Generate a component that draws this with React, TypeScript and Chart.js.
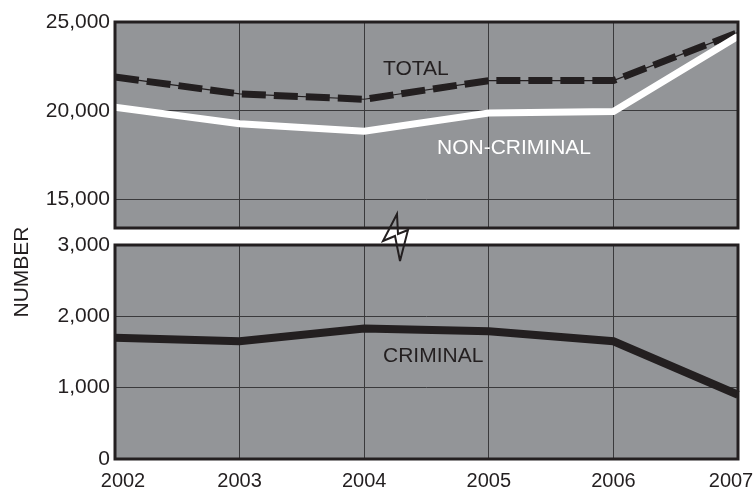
import React, { useEffect, useRef } from 'react';
import { Chart, registerables } from 'chart.js';

Chart.register(...registerables);

// ---- data ----
const years = ['2002', '2003', '2004', '2005', '2006', '2007'];
const total = [21900, 20950, 20650, 21700, 21700, 24400];
const nonCriminal = [20200, 19270, 18850, 19870, 19960, 24200];
const criminal = [1700, 1650, 1830, 1790, 1650, 900];
const upperTicks = [15000, 20000, 25000];
const lowerTicks = [0, 1000, 2000, 3000];
const upperRange = [13400, 25000];
const lowerRange = [0, 3000];

const GRAY = '#939598';
const INK = '#231f20';
const GRID = '#3a3a3c';
const FONT = "'Liberation Sans', Arial, Helvetica, sans-serif";

const panelPlugin = {
  id: 'panel',
  beforeDraw(chart: any) {
    const { ctx, chartArea: a } = chart;
    ctx.save();
    ctx.fillStyle = GRAY;
    ctx.fillRect(a.left, a.top, a.right - a.left, a.bottom - a.top);
    ctx.restore();
    // nudge the first and last x labels inward so they stay inside the page
    const xs = chart.scales.x;
    if (xs && xs.options.ticks.display) {
      const items = xs.getLabelItems();
      if (items.length && !items.__nudged) {
        items[0].options.translation[0] += 8;
        items[items.length - 1].options.translation[0] -= 7;
        items.__nudged = true;
      }
    }
  },
  afterDraw(chart: any) {
    const { ctx, chartArea: a } = chart;
    ctx.save();
    ctx.strokeStyle = INK;
    ctx.lineWidth = 3;
    ctx.strokeRect(a.left, a.top, a.right - a.left, a.bottom - a.top);
    ctx.restore();
  },
};

function makeOptions(range: number[], tickVals: number[], showX: boolean, padTop: number, padBottom: number) {
  return {
    animation: false,
    responsive: false,
    maintainAspectRatio: false,
    layout: { padding: { top: padTop, right: 18, bottom: padBottom, left: 0 } },
    plugins: { legend: { display: false }, tooltip: { enabled: false } },
    elements: { point: { radius: 0 }, line: { tension: 0 } },
    scales: {
      x: {
        offset: false,
        grid: { color: GRID, lineWidth: 1, drawTicks: false, offset: false },
        border: { display: false },
        ticks: {
          display: showX,
          color: INK,
          padding: 10,
          maxRotation: 0,
          autoSkip: false,
          font: { family: FONT, size: 20 },
        },
        afterFit: (s: any) => {
          s.paddingRight = 0;
          s.paddingLeft = 0;
          s.height = showX ? 30 : 0;
        },
      },
      y: {
        min: range[0],
        max: range[1],
        afterBuildTicks: (s: any) => {
          s.ticks = tickVals.map((v) => ({ value: v }));
        },
        afterFit: (s: any) => {
          s.width = 115;
          s.paddingTop = 0;
          s.paddingBottom = 0;
        },
        grid: { color: GRID, lineWidth: 1, drawTicks: false },
        border: { display: false },
        ticks: {
          color: INK,
          padding: 5,
          font: { family: FONT, size: 21 },
          callback: (v: any) => Number(v).toLocaleString('en-US'),
        },
      },
    },
  };
}

export default function App() {
  const topRef = useRef<HTMLCanvasElement>(null);
  const botRef = useRef<HTMLCanvasElement>(null);

  useEffect(() => {
    const top = new Chart(topRef.current as HTMLCanvasElement, {
      type: 'line',
      data: {
        labels: years,
        datasets: [
          {
            label: 'NON-CRIMINAL',
            data: nonCriminal,
            borderColor: '#ffffff',
            borderWidth: 7,
            borderJoinStyle: 'miter',
            fill: false,
          },
          {
            label: 'TOTAL (thin)',
            data: total,
            borderColor: INK,
            borderWidth: 1.2,
            fill: false,
          },
          {
            label: 'TOTAL',
            data: total,
            borderColor: INK,
            borderWidth: 7,
            borderDash: [24, 8],
            borderCapStyle: 'butt',
            borderJoinStyle: 'miter',
            fill: false,
          },
        ],
      },
      options: makeOptions(upperRange, upperTicks, false, 22, 3) as any,
      plugins: [panelPlugin],
    });

    const bottom = new Chart(botRef.current as HTMLCanvasElement, {
      type: 'line',
      data: {
        labels: years,
        datasets: [
          {
            label: 'CRIMINAL',
            data: criminal,
            borderColor: INK,
            borderWidth: 8,
            borderJoinStyle: 'miter',
            fill: false,
          },
        ],
      },
      options: makeOptions(lowerRange, lowerTicks, true, 15, 0) as any,
      plugins: [panelPlugin],
    });

    return () => {
      top.destroy();
      bottom.destroy();
    };
  }, []);

  const label = (text: string, left: number, top: number, color: string) => (
    <div
      style={{
        position: 'absolute',
        left,
        top,
        fontSize: 21,
        lineHeight: 1,
        whiteSpace: 'nowrap',
        color,
        fontFamily: FONT,
      }}
    >
      {text}
    </div>
  );

  return (
    <div
      style={{
        position: 'absolute',
        left: 0,
        top: 0,
        width: 756,
        height: 489,
        overflow: 'hidden',
        background: '#ffffff',
        fontFamily: FONT,
      }}
    >
      <canvas ref={topRef} width={756} height={231} style={{ position: 'absolute', left: 0, top: 0 }} />
      <canvas ref={botRef} width={756} height={259} style={{ position: 'absolute', left: 0, top: 230 }} />
      <svg
        width={756}
        height={489}
        style={{ position: 'absolute', left: 0, top: 0, pointerEvents: 'none' }}
      >
        <polygon
          points="397,214 383,241 395,236 400,261 408,230 398,234"
          fill="none"
          stroke={INK}
          strokeWidth={2}
          strokeLinejoin="miter"
        />
      </svg>
      {label('TOTAL', 383, 57, INK)}
      {label('NON-CRIMINAL', 437, 136, '#ffffff')}
      {label('CRIMINAL', 383, 344, INK)}
      <div
        style={{
          position: 'absolute',
          left: 19.5,
          top: 272,
          transform: 'translate(-50%, -50%) rotate(-90deg)',
          fontSize: 21,
          lineHeight: 1,
          whiteSpace: 'nowrap',
          color: INK,
          fontFamily: FONT,
        }}
      >
        NUMBER
      </div>
    </div>
  );
}
